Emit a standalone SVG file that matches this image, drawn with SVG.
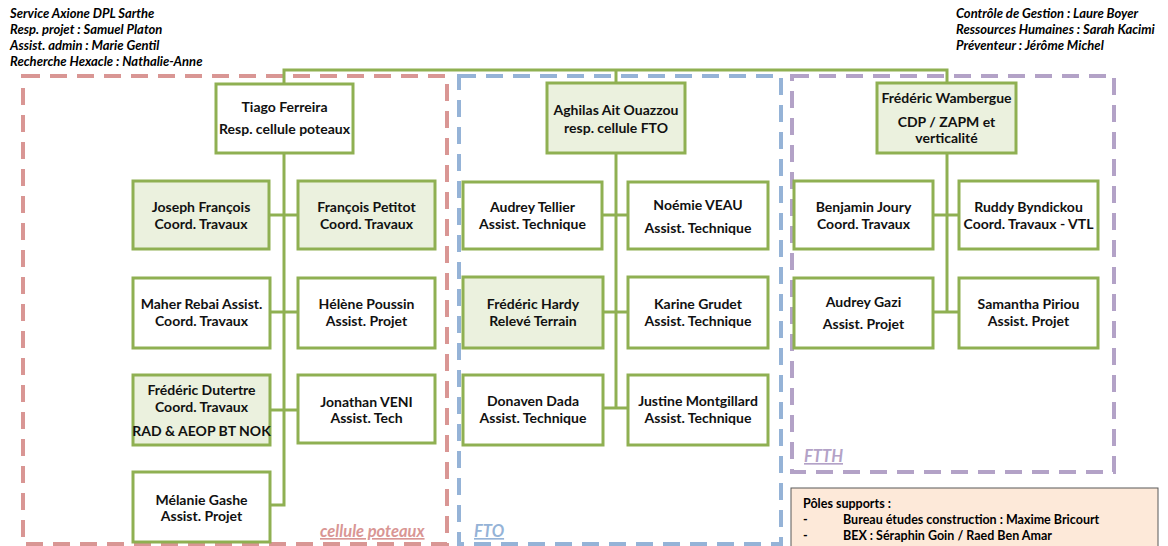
<svg xmlns="http://www.w3.org/2000/svg" width="1168" height="546" viewBox="0 0 1168 546">
<style>
.hdr{font-family:Lato,"Liberation Sans",sans-serif;font-size:13px;font-weight:bold;font-style:italic;fill:#000}
.box{stroke:#8fb052;stroke-width:3;fill:#fff}
.box.g{fill:#ebf1de}
.t{font-family:Lato,"Liberation Sans",sans-serif;font-size:14px;font-weight:bold;fill:#111;text-anchor:middle}
.ln{stroke:#8fb052;stroke-width:3;fill:none}
.grp{fill:none;stroke-width:4;stroke-dasharray:17 10}
.lbl{font-family:Lato,"Liberation Sans",sans-serif;font-size:16.5px;font-style:italic;font-weight:bold;text-decoration:underline}
.sup{font-family:Lato,"Liberation Sans",sans-serif;font-size:12.5px;font-weight:bold;fill:#000}
</style>
<rect width="1168" height="546" fill="#fff"/>
<g id="header-left">
<text class="hdr" x="10" y="18">Service Axione DPL Sarthe</text>
<text class="hdr" x="10" y="34">Resp. projet : Samuel Platon</text>
<text class="hdr" x="10" y="50">Assist. admin : Marie Gentil</text>
<text class="hdr" x="10" y="66">Recherche Hexacle : Nathalie-Anne</text>
</g>
<g id="header-right">
<text class="hdr" x="956" y="18">Contrôle de Gestion : Laure Boyer</text>
<text class="hdr" x="956" y="34">Ressources Humaines : Sarah Kacimi</text>
<text class="hdr" x="956" y="50">Préventeur : Jérôme Michel</text>
</g>
<g id="groups">
<rect class="grp" x="23" y="76" width="424" height="468" stroke="#d99694"/>
<rect class="grp" x="459" y="76" width="322" height="468" stroke="#95b3d7"/>
<rect class="grp" x="792" y="76" width="322" height="396" stroke="#b3a2c7"/>
<text class="lbl" x="320" y="537" fill="#d99694">cellule poteaux</text>
<text class="lbl" x="474" y="537" fill="#95b3d7">FTO</text>
<text class="lbl" x="804" y="462" fill="#b3a2c7">FTTH</text>
</g>
<g id="connectors">
<polyline class="ln" points="284,84 284,70 947,70 947,84"/>
<line class="ln" x1="616" y1="70" x2="616" y2="84"/>
<polyline class="ln" points="284,153 284,505 270,505"/>
<line class="ln" x1="269" y1="215" x2="298" y2="215"/>
<line class="ln" x1="270" y1="312" x2="298" y2="312"/>
<line class="ln" x1="270" y1="410" x2="298" y2="410"/>
<line class="ln" x1="616" y1="153" x2="616" y2="409"/>
<line class="ln" x1="602" y1="215" x2="628" y2="215"/>
<line class="ln" x1="603" y1="312" x2="628" y2="312"/>
<line class="ln" x1="603" y1="408" x2="628" y2="408"/>
<line class="ln" x1="947" y1="153" x2="947" y2="313"/>
<line class="ln" x1="933" y1="215" x2="959" y2="215"/>
<line class="ln" x1="933" y1="312" x2="959" y2="312"/>
</g>
<g id="n-tiago"><rect class="box" x="216" y="84" width="137" height="69"/><text class="t" x="284.5" y="112">Tiago Ferreira</text><text class="t" x="284.5" y="134">Resp. cellule poteaux</text></g>
<g id="n-joseph"><rect class="box g" x="133" y="181" width="136" height="68"/><text class="t" x="201" y="212">Joseph François</text><text class="t" x="201" y="229">Coord. Travaux</text></g>
<g id="n-francois"><rect class="box g" x="298" y="181" width="137" height="68"/><text class="t" x="366.5" y="212">François Petitot</text><text class="t" x="366.5" y="229">Coord. Travaux</text></g>
<g id="n-maher"><rect class="box" x="133" y="278" width="137" height="70"/><text class="t" x="201.5" y="309">Maher Rebai Assist.</text><text class="t" x="201.5" y="326">Coord. Travaux</text></g>
<g id="n-helene"><rect class="box" x="298" y="278" width="137" height="70"/><text class="t" x="366.5" y="309">Hélène Poussin</text><text class="t" x="366.5" y="326">Assist. Projet</text></g>
<g id="n-dutertre"><rect class="box g" x="133" y="375" width="137" height="70"/><text class="t" x="201.5" y="395">Frédéric Dutertre</text><text class="t" x="201.5" y="412">Coord. Travaux</text><text class="t" x="201.5" y="436">RAD &amp; AEOP BT NOK</text></g>
<g id="n-jonathan"><rect class="box" x="298" y="375" width="137" height="68"/><text class="t" x="366.5" y="407">Jonathan VENI</text><text class="t" x="366.5" y="423">Assist. Tech</text></g>
<g id="n-melanie"><rect class="box" x="133" y="472" width="137" height="70"/><text class="t" x="201.5" y="505">Mélanie Gashe</text><text class="t" x="201.5" y="521">Assist. Projet</text></g>
<g id="n-aghilas"><rect class="box g" x="547" y="83" width="138" height="70"/><text class="t" x="616" y="115">Aghilas Ait Ouazzou</text><text class="t" x="616" y="133">resp. cellule FTO</text></g>
<g id="n-audrey-t"><rect class="box" x="463" y="182" width="139" height="67"/><text class="t" x="532.5" y="212">Audrey Tellier</text><text class="t" x="532.5" y="229">Assist. Technique</text></g>
<g id="n-noemie"><rect class="box" x="628" y="182" width="140" height="67"/><text class="t" x="698" y="210">Noémie VEAU</text><text class="t" x="698" y="233">Assist. Technique</text></g>
<g id="n-hardy"><rect class="box g" x="463" y="277" width="140" height="71"/><text class="t" x="533" y="309">Frédéric Hardy</text><text class="t" x="533" y="326">Relevé Terrain</text></g>
<g id="n-karine"><rect class="box" x="628" y="277" width="140" height="71"/><text class="t" x="698" y="309">Karine Grudet</text><text class="t" x="698" y="326">Assist. Technique</text></g>
<g id="n-donaven"><rect class="box" x="463" y="375" width="140" height="70"/><text class="t" x="533" y="406">Donaven Dada</text><text class="t" x="533" y="423">Assist. Technique</text></g>
<g id="n-justine"><rect class="box" x="628" y="375" width="140" height="70"/><text class="t" x="698" y="406">Justine Montgillard</text><text class="t" x="698" y="423">Assist. Technique</text></g>
<g id="n-wambergue"><rect class="box g" x="877" y="83" width="139" height="70"/><text class="t" x="946.5" y="103">Frédéric Wambergue</text><text class="t" x="946.5" y="127">CDP / ZAPM et</text><text class="t" x="946.5" y="143">verticalité</text></g>
<g id="n-benjamin"><rect class="box" x="794" y="181" width="139" height="68"/><text class="t" x="863.5" y="212">Benjamin Joury</text><text class="t" x="863.5" y="229">Coord. Travaux</text></g>
<g id="n-ruddy"><rect class="box" x="959" y="181" width="139" height="68"/><text class="t" x="1028.5" y="212">Ruddy Byndickou</text><text class="t" x="1028.5" y="229">Coord. Travaux - VTL</text></g>
<g id="n-audrey-g"><rect class="box" x="794" y="278" width="139" height="70"/><text class="t" x="863.5" y="307">Audrey Gazi</text><text class="t" x="863.5" y="329">Assist. Projet</text></g>
<g id="n-samantha"><rect class="box" x="959" y="278" width="139" height="70"/><text class="t" x="1028.5" y="309">Samantha Piriou</text><text class="t" x="1028.5" y="326">Assist. Projet</text></g>
<g id="n-supports">
<rect x="791" y="488" width="367" height="62" fill="#fde9d9" stroke="#595959" stroke-width="1"/>
<text class="sup" x="803" y="508">Pôles supports :</text>
<text class="sup" x="803" y="524">-</text><text class="sup" x="843" y="524">Bureau études construction : Maxime Bricourt</text>
<text class="sup" x="803" y="540">-</text><text class="sup" x="843" y="540">BEX : Séraphin Goin / Raed Ben Amar</text>
</g>
</svg>
